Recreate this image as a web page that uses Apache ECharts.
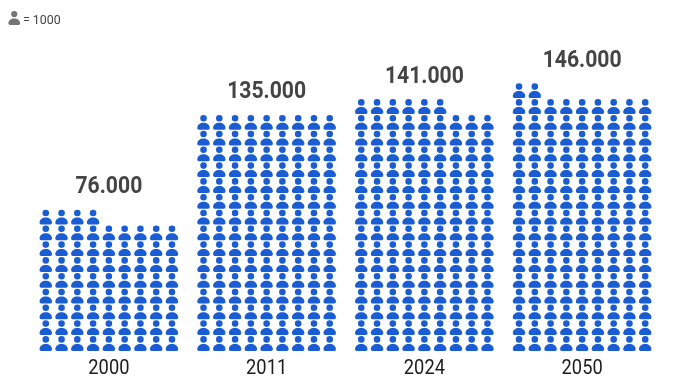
<!DOCTYPE html>
<html><head><meta charset="utf-8">
<style>html,body{margin:0;padding:0;background:#fff}#c{width:678px;height:392px}</style>
<script src="https://cdn.jsdelivr.net/npm/echarts@6/dist/echarts.min.js"></script>
</head><body><div id="c"></div>
<script>
const categories = ['2000','2011','2024','2050'];
const iconCounts = [76,135,141,146];
const valueLabels = ['76.000','135.000','141.000','146.000'];
const legendText = '= 1000';

const COLS = 9, ROW_MAX = 20, COL_STEP = 0.1;
const PERSON = 'M6.25 0.2a3.3 3.3 0 1 1 0 6.6a3.3 3.3 0 1 1 0-6.6z M0 13C0.2 10 2.8 8 6.25 8C9.7 8 12.3 10 12.5 13C12.5 14.2 11.8 15 10.8 15L1.7 15C0.7 15 0 14.2 0 13z';
const BLUE = '#1a5dd3';

const chart = echarts.init(document.getElementById('c'), null, {renderer:'canvas'});
chart.setOption({
  animation:false,
  backgroundColor:'#fff',
  grid:{left:30,right:17,top:35,bottom:41},
  xAxis:{type:'category',data:categories,axisLine:{show:false},axisTick:{show:false},axisLabel:{show:false}},
  yAxis:{type:'value',min:0,max:ROW_MAX,show:false},
  graphic:[
    {type:'text',x:23,y:14,scaleX:0.95,style:{text:legendText,fill:'#444',fontFamily:'Roboto',fontSize:13}}
  ],
  series:[{
    type:'custom',
    clip:false,
    data:iconCounts.map((v,i)=>[i,v]),
    encode:{x:0,y:1},
    renderItem(params,api){
      const cat=api.value(0), n=api.value(1);
      const band=api.size([1,0])[0];
      const cx=api.coord([cat,0])[0];
      const base=api.coord([cat,0])[1];
      const step=band*COL_STEP;
      const kids=[];
      for(let k=0;k<n;k++){
        const col=k%COLS, row=Math.floor(k/COLS);
        const bottom=api.coord([cat,row])[1];
        const x=cx+(col-(COLS-1)/2)*step;
        kids.push({type:'path',shape:{pathData:PERSON,x:x-6.25,y:bottom-15,width:12.5,height:15},style:{fill:BLUE}});
      }
      const rows=Math.ceil(n/COLS);
      kids.push({type:'text',x:cx,y:api.coord([cat,rows])[1]-21.5,scaleX:0.9,
        style:{text:valueLabels[params.dataIndex],fill:'#444',fontFamily:'Roboto',fontWeight:'bold',fontSize:23.5,align:'center',verticalAlign:'middle'}});
      kids.push({type:'text',x:cx,y:base+17.5,scaleX:0.87,
        style:{text:categories[cat],fill:'#1c1c1c',fontFamily:'Roboto',fontSize:21,align:'center',verticalAlign:'middle'}});
      return {type:'group',children:kids};
    }
  },{
    type:'custom',
    coordinateSystem:'none',
    data:[[0]],
    silent:true,
    renderItem(){
      return {type:'path',shape:{pathData:PERSON,x:8,y:11,width:12.5,height:14},style:{fill:'#757575'}};
    }
  }]
});
</script></body></html>
